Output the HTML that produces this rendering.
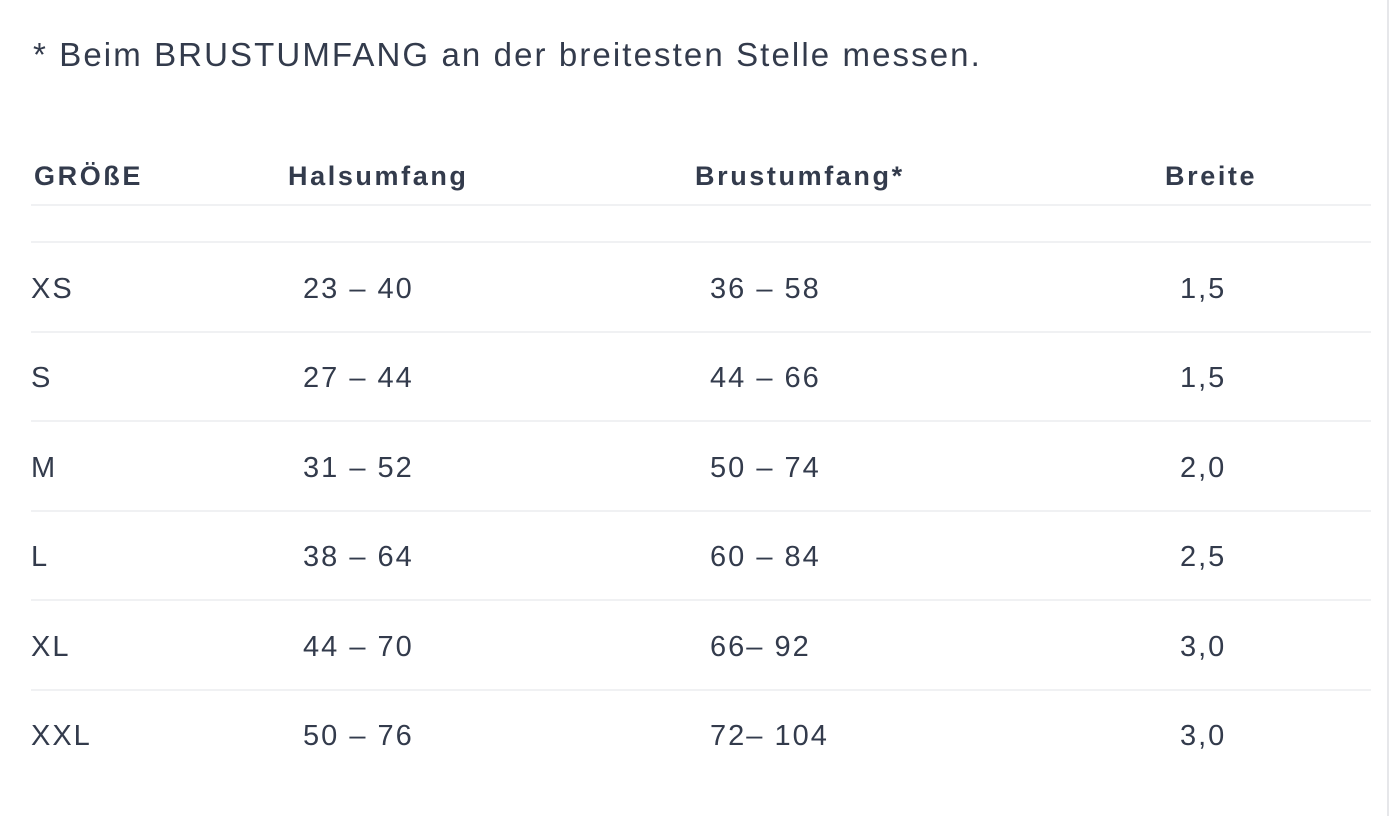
<!DOCTYPE html>
<html><head><meta charset="utf-8"><style>
body{margin:0;width:1390px;height:816px;background:#fff;position:relative;overflow:hidden;font-family:"Liberation Sans",sans-serif;color:#333b4c}
.t{position:absolute;white-space:nowrap}
.note{left:33px;top:36px;font-size:33px;letter-spacing:2.1px}
.h{font-weight:bold;font-size:27px;top:161px;letter-spacing:2.6px}
.d{font-size:29px;letter-spacing:2px}
.l{position:absolute;left:31px;width:1340px;height:2px;background:#f0f1f3}
.vr{position:absolute;left:1387px;top:0;width:2px;height:816px;background:#e6e7ea}
</style></head><body>
<div class="t note">* Beim BRUSTUMFANG an der breitesten Stelle messen.</div>
<div class="t h" style="left:34px">GRÖßE</div>
<div class="t h" style="left:288px">Halsumfang</div>
<div class="t h" style="left:695px">Brustumfang*</div>
<div class="t h" style="left:1165px">Breite</div>
<div class="l" style="top:204px"></div>
<div class="l" style="top:241px"></div>
<div class="l" style="top:331px"></div>
<div class="l" style="top:420px"></div>
<div class="l" style="top:510px"></div>
<div class="l" style="top:599px"></div>
<div class="l" style="top:689px"></div>
<div class="vr"></div>
<div class="t d" style="left:31px;top:273px">XS</div><div class="t d" style="left:303px;top:273px">23 – 40</div><div class="t d" style="left:710px;top:273px">36 – 58</div><div class="t d" style="left:1180px;top:273px">1,5</div>
<div class="t d" style="left:31px;top:362px">S</div><div class="t d" style="left:303px;top:362px">27 – 44</div><div class="t d" style="left:710px;top:362px">44 – 66</div><div class="t d" style="left:1180px;top:362px">1,5</div>
<div class="t d" style="left:31px;top:452px">M</div><div class="t d" style="left:303px;top:452px">31 – 52</div><div class="t d" style="left:710px;top:452px">50 – 74</div><div class="t d" style="left:1180px;top:452px">2,0</div>
<div class="t d" style="left:31px;top:541px">L</div><div class="t d" style="left:303px;top:541px">38 – 64</div><div class="t d" style="left:710px;top:541px">60 – 84</div><div class="t d" style="left:1180px;top:541px">2,5</div>
<div class="t d" style="left:31px;top:631px">XL</div><div class="t d" style="left:303px;top:631px">44 – 70</div><div class="t d" style="left:710px;top:631px">66– 92</div><div class="t d" style="left:1180px;top:631px">3,0</div>
<div class="t d" style="left:31px;top:720px">XXL</div><div class="t d" style="left:303px;top:720px">50 – 76</div><div class="t d" style="left:710px;top:720px">72– 104</div><div class="t d" style="left:1180px;top:720px">3,0</div>
</body></html>
